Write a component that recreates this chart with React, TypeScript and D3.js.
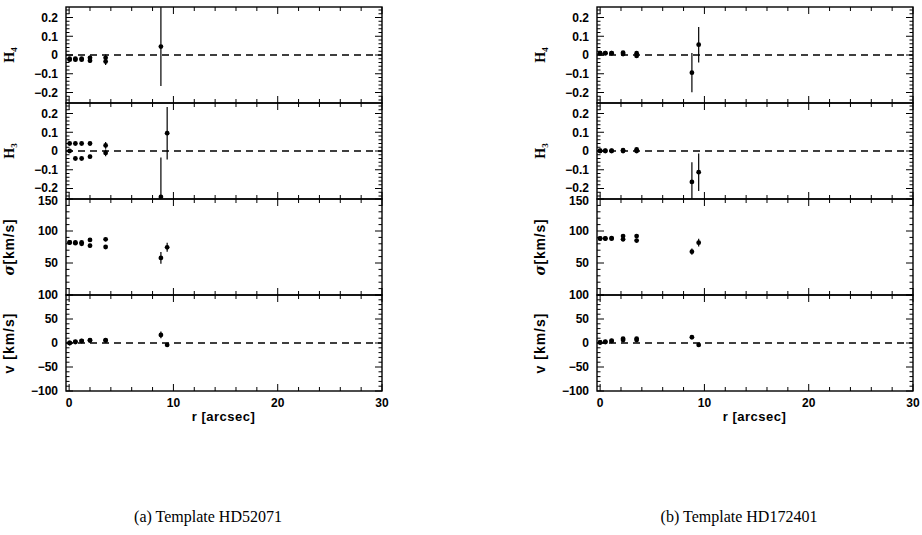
import React from "react";
import * as d3 from "d3";

// ---------- data ----------
const rA = [0.05, 0.05, 0.6, 0.6, 1.2, 1.2, 2.0, 2.0, 3.5, 3.5, 8.8, 9.4];
const h4A = [-0.025, -0.02, -0.025, -0.02, -0.02, -0.025, -0.03, -0.015, -0.015, -0.035, 0.045, null];
const h4ErrA = [0.008, 0.008, 0.008, 0.008, 0.008, 0.008, 0.012, 0.012, 0.018, 0.018, 0.21, null];
const h3A = [0.04, 0.0, 0.04, -0.04, 0.04, -0.04, 0.04, -0.03, 0.03, -0.01, -0.245, 0.095];
const h3ErrA = [0.008, 0.008, 0.008, 0.008, 0.008, 0.008, 0.01, 0.01, 0.018, 0.018, 0.21, 0.14];
const sigA = [82, 82, 82, 81, 82, 80, 86, 77, 87, 75, 58, 74.5];
const sigErrA = [2, 2, 2, 2, 2, 2, 3, 3, 3, 3, 9, 7];
const vA = [0, 0, 3, 2, 4.5, 4, 6, 5, 6, 5, 16.7, -4];
const vErrA = [1.5, 1.5, 1.5, 1.5, 1.5, 1.5, 2, 2, 2, 2, 7, 3];

const rB = [0.0, 0.0, 0.5, 0.5, 1.1, 1.1, 2.2, 2.2, 3.5, 3.5, 8.8, 9.45];
const h4B = [0.01, 0.01, 0.01, 0.01, 0.01, 0.01, 0.012, 0.005, 0.01, -0.005, -0.094, 0.055];
const h4ErrB = [0.005, 0.005, 0.005, 0.005, 0.005, 0.005, 0.008, 0.008, 0.01, 0.01, 0.105, 0.095];
const h3B = [0.002, 0.0, 0.002, 0.0, 0.002, 0.0, 0.004, 0.0, 0.008, 0.0, -0.165, -0.113];
const h3ErrB = [0.005, 0.005, 0.005, 0.005, 0.005, 0.005, 0.008, 0.008, 0.01, 0.01, 0.105, 0.1];
const sigB = [88.5, 88, 88.5, 88, 89, 88, 92, 87, 92, 85, 67.7, 81.7];
const sigErrB = [2, 2, 2, 2, 2, 2, 3, 3, 3, 3, 5, 6];
const vB = [1.4, 1, 2.8, 2, 4.9, 4, 9, 6, 9, 6, 12, -4];
const vErrB = [1.5, 1.5, 1.5, 1.5, 1.5, 1.5, 2, 2, 2, 2, 3, 3];

const xTickLabels = [0, 10, 20, 30];
const h4Labels = [0.2, 0.1, 0, -0.1, -0.2];
const h3Labels = [0.2, 0.1, 0, -0.1, -0.2];
const sigLabels = [150, 100, 50];
const vLabels = [100, 50, 0, -50, -100];
const captions = ["(a) Template HD52071", "(b) Template HD172401"];

// ---------- layout ----------
const W = 922, H = 535;
const frameLeft = [66, 597];
const frameW = 316;
const top0 = 7;
const panelH = 96;

const fmt = (v: number) => (v < 0 ? "\u2212" + String(Math.abs(v)) : String(v));

type PanelCfg = {
  key: string;
  domain: [number, number];
  minor: number[];
  major: number[];
  labels: number[];
  dashed: boolean;
};

const hMinor = d3.range(-12, 13).map((i) => +(i * 0.02).toFixed(3));
const hMajor = d3.range(-2, 3).map((i) => +(i * 0.1).toFixed(3));

const panelCfgs: PanelCfg[] = [
  { key: "h4", domain: [-0.256, 0.256], minor: hMinor, major: hMajor, labels: h4Labels, dashed: true },
  { key: "h3", domain: [-0.256, 0.256], minor: hMinor, major: hMajor, labels: h3Labels, dashed: true },
  { key: "sig", domain: [0, 150], minor: d3.range(0, 151, 10), major: [0, 50, 100, 150], labels: sigLabels, dashed: false },
  { key: "v", domain: [-100, 100], minor: d3.range(-100, 101, 10), major: [-100, -50, 0, 50, 100], labels: vLabels, dashed: true },
];

const tickFont = "'Liberation Sans', Arial, sans-serif";

function YLabel({ k, x, y }: { k: string; x: number; y: number }) {
  const common = {
    transform: `translate(${x},${y}) rotate(-90)`,
    textAnchor: "middle" as const,
    fontFamily: tickFont,
    fontWeight: 700,
    fontSize: 14,
  };
  if (k === "h4" || k === "h3") {
    return (
      <text {...common} fontFamily="'Liberation Serif', serif">
        H<tspan fontSize={9} dy={3}>{k === "h4" ? "4" : "3"}</tspan>
      </text>
    );
  }
  if (k === "sig") {
    return (
      <text {...common} letterSpacing={0.8}>
        <tspan fontStyle="italic" fontFamily="'DejaVu Serif', serif">σ</tspan>[km/s]
      </text>
    );
  }
  return (
    <text {...common} letterSpacing={1}>
      v [km/s]
    </text>
  );
}

function Chart({ idx, r, series }: { idx: number; r: number[]; series: { v: (number | null)[]; e: (number | null)[] }[] }) {
  const x0 = frameLeft[idx];
  const x = d3.scaleLinear().domain([-0.3, 30]).range([x0, x0 + frameW]);
  const xMinor = d3.range(0, 31, 2);
  const bottom = top0 + panelH * 4;
  return (
    <g>
      {panelCfgs.map((p, pi) => {
        const yTop = top0 + pi * panelH;
        const y = d3.scaleLinear().domain(p.domain).range([yTop + panelH, yTop]);
        const s = series[pi];
        return (
          <g key={p.key}>
            {/* x ticks top & bottom */}
            {xMinor.map((t) => {
              const len = t % 10 === 0 ? 7 : 4;
              return (
                <g key={"xt" + t} stroke="#000" strokeWidth={1}>
                  <line x1={x(t)} x2={x(t)} y1={yTop} y2={yTop + len} />
                  <line x1={x(t)} x2={x(t)} y1={yTop + panelH} y2={yTop + panelH - len} />
                </g>
              );
            })}
            {/* y ticks left & right */}
            {p.minor.map((t) => {
              const isMajor = p.major.some((m) => Math.abs(m - t) < 1e-6);
              const len = isMajor ? 7 : 3.5;
              return (
                <g key={"yt" + t} stroke="#000" strokeWidth={1}>
                  <line x1={x0} x2={x0 + len} y1={y(t)} y2={y(t)} />
                  <line x1={x0 + frameW} x2={x0 + frameW - len} y1={y(t)} y2={y(t)} />
                </g>
              );
            })}
            {/* y tick labels */}
            {p.labels.map((t) => (
              <text
                key={"yl" + t}
                x={x0 - 8}
                y={y(t) + (p.key === "sig" && t === 150 ? 2 : 0) + (p.key === "h3" && t === -0.2 ? -1 : 0)}
                dy="0.36em"
                textAnchor="end"
                fontFamily={tickFont}
                fontWeight={700}
                fontSize={12}
              >
                {fmt(t)}
              </text>
            ))}
            {/* dashed zero line */}
            {p.dashed && (
              <line
                x1={x0}
                x2={x0 + frameW}
                y1={y(0)}
                y2={y(0)}
                stroke="#000"
                strokeWidth={1.4}
                strokeDasharray="7,5"
              />
            )}
            {/* data */}
            <g>
              {r.map((rv, i) => {
                const v = s.v[i];
                const e = s.e[i];
                if (v === null || e === null) return null;
                const [d0, d1] = p.domain;
                const lo = Math.max(d0, v - e);
                const hi = Math.min(d1, v + e);
                return (
                  <g key={"d" + i}>
                    <line x1={x(rv)} x2={x(rv)} y1={y(lo)} y2={y(hi)} stroke="#000" strokeWidth={1.2} />
                    <circle cx={x(rv)} cy={y(v)} r={2.4} fill="#000" />
                  </g>
                );
              })}
            </g>
            <YLabel k={p.key} x={x0 - 52} y={yTop + panelH / 2} />
          </g>
        );
      })}
      {/* panel frames */}
      {panelCfgs.map((p, pi) => (
        <rect
          key={"f" + p.key}
          x={x0}
          y={top0 + pi * panelH}
          width={frameW}
          height={panelH}
          fill="none"
          stroke="#000"
          strokeWidth={1.4}
        />
      ))}
      {/* x tick labels */}
      {xTickLabels.map((t) => (
        <text
          key={"xl" + t}
          x={x(t)}
          y={bottom + 16}
          textAnchor="middle"
          fontFamily={tickFont}
          fontWeight={700}
          fontSize={12}
        >
          {t}
        </text>
      ))}
      <text
        x={x(15) - 2}
        y={bottom + 30}
        textAnchor="middle"
        fontFamily={tickFont}
        fontWeight={700}
        fontSize={13}
        letterSpacing={0.5}
      >
        r [arcsec]
      </text>
      <text
        x={x0 + 142}
        y={522}
        textAnchor="middle"
        fontFamily="'Liberation Serif', 'DejaVu Serif', serif"
        fontSize={16}
      >
        {captions[idx]}
      </text>
    </g>
  );
}

export default function App() {
  return (
    <svg
      width={W}
      height={H}
      viewBox={`0 0 ${W} ${H}`}
      style={{ position: "absolute", left: 0, top: 0, background: "#fff" }}
    >
      <rect x={0} y={0} width={W} height={H} fill="#fff" />
      <Chart
        idx={0}
        r={rA}
        series={[
          { v: h4A, e: h4ErrA },
          { v: h3A, e: h3ErrA },
          { v: sigA, e: sigErrA },
          { v: vA, e: vErrA },
        ]}
      />
      <Chart
        idx={1}
        r={rB}
        series={[
          { v: h4B, e: h4ErrB },
          { v: h3B, e: h3ErrB },
          { v: sigB, e: sigErrB },
          { v: vB, e: vErrB },
        ]}
      />
    </svg>
  );
}
